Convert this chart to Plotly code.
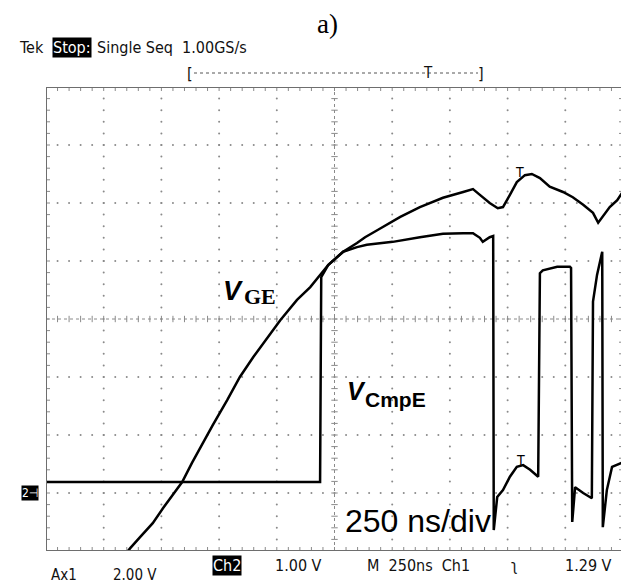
import numpy as np
import plotly.graph_objects as go

# screen divisions: x 0..10 (250 ns/div), y -4..4
vge_x = [1.42, 1.46, 1.63, 1.85, 2.03, 2.20, 2.36, 2.53, 2.67, 2.89, 3.14, 3.36, 3.59, 3.83,
         4.06, 4.35, 4.58, 4.89, 5.15, 5.39, 5.53, 5.74, 6.14, 6.48, 6.88, 7.23, 7.40, 7.52,
         7.69, 7.83, 7.92, 8.04, 8.16, 8.30, 8.42, 8.56, 8.73, 8.96, 9.13, 9.31, 9.48, 9.57,
         9.65, 9.77, 9.90, 9.98]
vge_y = [-4.00, -3.95, -3.76, -3.52, -3.26, -3.03, -2.81, -2.48, -2.22, -1.83, -1.40, -1.00,
         -0.66, -0.33, -0.02, 0.33, 0.55, 0.93, 1.16, 1.31, 1.41, 1.53, 1.76, 1.93, 2.09, 2.19,
         2.24, 2.14, 2.00, 1.91, 1.93, 2.14, 2.36, 2.48, 2.50, 2.43, 2.28, 2.19, 2.10, 1.97,
         1.83, 1.66, 1.76, 1.93, 2.05, 2.17]

cmp_x = [0.00, 4.75, 4.77, 4.89, 5.15, 5.39, 5.56, 6.01, 6.48, 6.88, 7.23, 7.40, 7.52, 7.57,
         7.69, 7.75, 7.76, 7.82, 7.92, 8.04, 8.16, 8.27, 8.39, 8.53, 8.56, 8.61, 8.86, 9.08,
         9.10, 9.12, 9.17, 9.31, 9.46, 9.48, 9.55, 9.64, 9.65, 9.72, 9.81, 9.98]
cmp_y = [-2.81, -2.81, 0.72, 0.93, 1.16, 1.24, 1.28, 1.33, 1.41, 1.47, 1.48, 1.48, 1.40, 1.33,
         1.41, 1.43, -3.64, -3.07, -2.95, -2.72, -2.55, -2.52, -2.60, -2.72, 0.79, 0.84, 0.90,
         0.90, 0.88, -3.50, -2.90, -3.00, -3.09, 0.30, 0.76, 1.16, -3.59, -2.95, -2.55, -2.48]

# plot frame in page pixels; the page body adds an 8px margin
L, T, R, B = 46, 87, 623, 551
PAGE_W, PAGE_H = 629, 584
OFF = 8
W, H = PAGE_W - OFF, PAGE_H - OFF
DX = (R - L) / 10
DY = (B - T) / 8


def px(x, y):
    return (x - L) / (R - L), (B - y) / (B - T)


fig = go.Figure()

grid_color = "#8a8a8a"

# dotted graticule
minor_x = np.round(np.arange(0, 10.001, 0.2), 3)
minor_y = np.round(np.arange(-4, 4.001, 0.2), 3)
gx, gy = [], []
for i in range(1, 10):
    if i == 5:
        continue
    gx += [i] * len(minor_y)
    gy += list(minor_y)
for j in range(-3, 4):
    if j == 0:
        continue
    gx += list(minor_x)
    gy += [j] * len(minor_x)
fig.add_trace(go.Scatter(x=gx, y=gy, mode="markers", marker=dict(size=2, color=grid_color),
                         hoverinfo="skip", showlegend=False))

# tick marks on border and centre cross
tl = 4 / DX
tv = 4 / DY
tx, ty = [], []
for v in minor_x:
    tx += [v, v, None, v, v, None, v, v, None]
    ty += [4, 4 - tv, None, -4, -4 + tv, None, -tv * 0.8, tv * 0.8, None]
for v in minor_y:
    ty += [v, v, None, v, v, None, v, v, None]
    tx += [0, tl, None, 10, 10 - tl, None, 5 - tl * 0.8, 5 + tl * 0.8, None]
fig.add_trace(go.Scatter(x=tx, y=ty, mode="lines", line=dict(color=grid_color, width=1),
                         hoverinfo="skip", showlegend=False))
fig.add_trace(go.Scatter(x=[0, 10, None, 5, 5], y=[0, 0, None, -4, 4], mode="lines",
                         line=dict(color=grid_color, width=1, dash="dot"),
                         hoverinfo="skip", showlegend=False))

# waveforms
fig.add_trace(go.Scatter(x=cmp_x, y=cmp_y, mode="lines", line=dict(color="black", width=2.5),
                         name="vCmpE", showlegend=False))
fig.add_trace(go.Scatter(x=vge_x, y=vge_y, mode="lines", line=dict(color="black", width=2.5),
                         name="vGE", showlegend=False))

fig.add_shape(type="rect", x0=0, x1=10, y0=-4, y1=4, xref="x", yref="y",
              line=dict(color="#6e6e6e", width=2))

tek = "DejaVu Sans Condensed, DejaVu Sans, sans-serif"


def note(text, x, y, size=15, family=tek, color="#111", bg=None, xa="left", ya="middle"):
    ax, ay = px(x, y)
    fig.add_annotation(x=ax, y=ay, xref="paper", yref="paper", text=text, showarrow=False,
                       xanchor=xa, yanchor=ya, font=dict(size=size, family=family, color=color),
                       bgcolor=bg, borderpad=0)


note("a)", 327, 8, size=27, family="Liberation Serif, serif", color="black", xa="center",
     ya="top")
note("Tek", 18, 48, size=16)
note("Stop:", 52, 48, size=16, color="white", bg="black")
note("Single Seq  1.00GS/s", 96, 48, size=16)

# record bracket
bx0, by = px(194, 73)
bx1, _ = px(478, 73)
fig.add_shape(type="line", x0=bx0, x1=bx1, y0=by, y1=by, xref="paper", yref="paper",
              line=dict(color="#555", width=1, dash="dot"))
note("[", 190, 73, size=16, xa="center")
note("]", 481, 73, size=16, xa="center")
note("T", 428, 73, size=15, xa="center")

# labels
note("<b><i>V</i></b>", 222, 291, size=27, family="Liberation Sans, Arial, sans-serif",
     color="black")
note("<b>GE</b>", 243, 296, size=22, family="Liberation Serif, serif", color="black")
note("<b><i>V</i></b>", 346, 391, size=25, family="Liberation Sans, Arial, sans-serif",
     color="black")
note("<b>CmpE</b>", 364, 399, size=21, family="Liberation Sans, Arial, sans-serif",
     color="black")
note("250 ns/div", 344, 521, size=32, family="Liberation Sans, Arial, sans-serif",
     color="black")

note("2⊣", 21, 493, size=12, color="white", bg="black")
note("T", 519, 172, size=14, color="black", xa="center")
note("T", 520, 460, size=14, color="black", xa="center")

# status rows
note("Ch2", 212, 565, size=16, color="white", bg="black")
note("1.00 V", 274, 565, size=16)
note("M  250ns  Ch1", 366, 565, size=16)
note("ʅ", 510, 565, size=16)
note("1.29 V", 564, 565, size=16)
note("Ax1", 50, 575, size=15)
note("2.00 V", 112, 575, size=15)

fig.update_xaxes(range=[0, 10], visible=False, fixedrange=True)
fig.update_yaxes(range=[-4, 4], visible=False, fixedrange=True)
fig.update_layout(width=W, height=H,
                  margin=dict(l=L - OFF, r=PAGE_W - R, t=T - OFF, b=PAGE_H - B),
                  paper_bgcolor="white", plot_bgcolor="white", showlegend=False)

fig.write_html("out.html")
